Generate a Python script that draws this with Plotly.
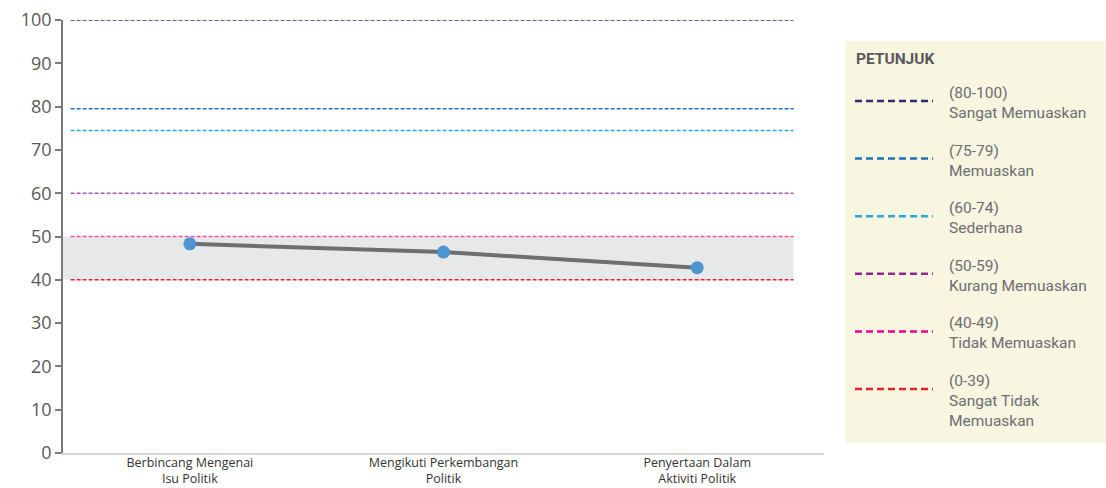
import plotly.graph_objects as go

# ---- data ----
categories = ["Berbincang Mengenai<br>Isu Politik",
              "Mengikuti Perkembangan<br>Politik",
              "Penyertaan Dalam<br>Aktiviti Politik"]
scores = [48.3, 46.4, 42.8]

threshold_values = [100, 79.5, 74.5, 60, 50, 40]
threshold_colors = ["#2b2a73", "#1f70b5", "#27aae1", "#a45aa8", "#f0509a", "#e8202a"]
legend_ranges = ["(80-100)", "(75-79)", "(60-74)", "(50-59)", "(40-49)", "(0-39)"]
legend_names = ["Sangat Memuaskan", "Memuaskan", "Sederhana",
                "Kurang Memuaskan", "Tidak Memuaskan", "Sangat Tidak<br>Memuaskan"]
legend_colors = ["#2b2a73", "#1f70b5", "#27aae1", "#92278f", "#ec008c", "#e8202a"]
band = [40, 50]

W, H = 1106, 488
ML, MR, MT, MB = 63, 282, 20, 35
PW = W - ML - MR
PH = H - MT - MB

def px(x):
    return (x - ML) / PW

def py(y):
    return 1 - (y - MT) / PH

fig = go.Figure()

shapes = []
# shaded band
shapes.append(dict(type="rect", xref="x", yref="y", x0=-0.5, x1=2.38,
                   y0=band[0], y1=band[1], fillcolor="#e6e9e8", line_width=0, layer="below"))
# threshold lines
for v, c in zip(threshold_values, threshold_colors):
    shapes.append(dict(type="line", xref="x", yref="y", x0=-0.47, x1=2.38, y0=v, y1=v,
                       line=dict(color=c, width=1.5, dash="4px,2px"), layer="below"))

fig.add_trace(go.Scatter(
    x=categories, y=scores, mode="lines+markers",
    line=dict(color="#6d6f71", width=4),
    marker=dict(color="#4f95d1", size=13),
    showlegend=False, hoverinfo="x+y"))

# legend panel
shapes.append(dict(type="rect", xref="paper", yref="paper",
                   x0=px(845), x1=px(1106), y0=py(443), y1=py(41),
                   fillcolor="#f8f5e1", line_width=0, layer="below"))
annotations = [dict(xref="paper", yref="paper", x=px(854), y=py(59), text="<b>PETUNJUK</b>",
                    showarrow=False, xanchor="left", yanchor="middle",
                    font=dict(family="Roboto", size=15.5, color="#58595b"))]
for i, (r, n, c) in enumerate(zip(legend_ranges, legend_names, legend_colors)):
    ly = 101 + i * 57.6
    shapes.append(dict(type="line", xref="paper", yref="paper", x0=px(855), x1=px(933),
                       y0=py(ly), y1=py(ly), line=dict(color=c, width=2.5, dash="7px,4px")))
    annotations.append(dict(xref="paper", yref="paper", x=px(947), y=py(ly - 19),
                            text=r + "<br>" + n, showarrow=False, xanchor="left", yanchor="top",
                            align="left",
                            font=dict(family="Roboto", size=15.5, color="#6d6e71")))

fig.update_layout(
    width=W, height=H,
    margin=dict(l=ML, r=MR, t=MT, b=MB, autoexpand=False),
    paper_bgcolor="white", plot_bgcolor="white",
    shapes=shapes, annotations=annotations,
    xaxis=dict(range=[-0.5, 2.5], showgrid=False, zeroline=False, automargin=False,
               showline=True, linecolor="#d4d4d4", linewidth=2,
               ticks="", ticklabelstandoff=-3,
               tickfont=dict(family="Open Sans", size=12.5, color="#333333")),
    yaxis=dict(range=[0, 100], dtick=10, showgrid=False, zeroline=False, automargin=False,
               showline=True, linecolor="#7a7a7a", linewidth=1.5,
               ticks="outside", ticklen=6, tickcolor="#7a7a7a", tickwidth=1.5,
               tickfont=dict(family="Open Sans", size=18, color="#58595b")),
)

fig.write_html("out.html", config={"displayModeBar": False},
               post_script="document.body.style.margin='0';")
